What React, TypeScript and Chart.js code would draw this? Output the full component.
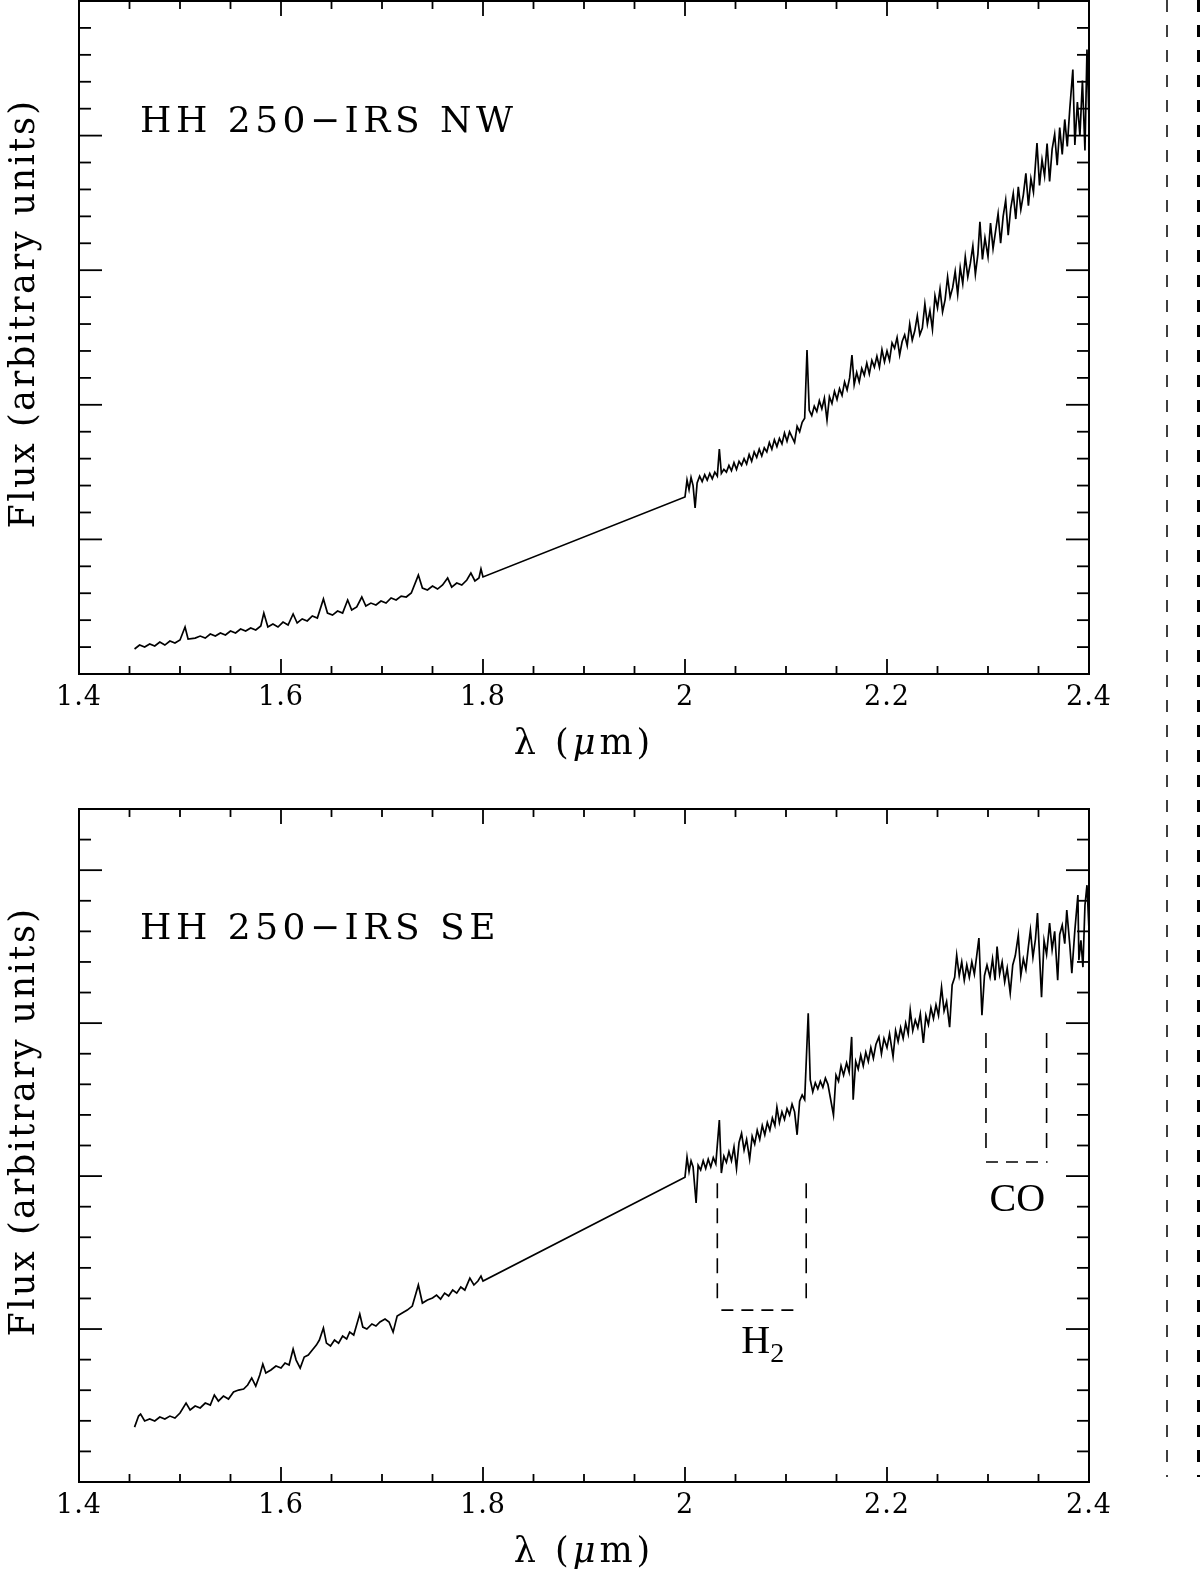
import React, { useEffect, useRef } from "react";
import { Chart, registerables } from "chart.js";

Chart.register(...registerables);

type Pt = [number, number];

// axis ticks (wavelength in micron), flux axis has no labels
const xMajorTicks = [1.4, 1.6, 1.8, 2.0, 2.2, 2.4];
const xTickLabels = ["1.4", "1.6", "1.8", "2", "2.2", "2.4"];
const xMinorStep = 0.05;
const yMinorStep = 0.2;

// HH 250-IRS NW, H band
const nwHBand: Pt[] = [
  [1.455, 0.186], [1.46, 0.215], [1.465, 0.201], [1.47, 0.223], [1.475, 0.208],
  [1.48, 0.238], [1.485, 0.215], [1.49, 0.245], [1.495, 0.23], [1.5, 0.253],
  [1.505, 0.349], [1.508, 0.26], [1.515, 0.267], [1.52, 0.282], [1.525, 0.267],
  [1.53, 0.297], [1.535, 0.282], [1.54, 0.305], [1.545, 0.29], [1.55, 0.319],
  [1.555, 0.305], [1.56, 0.334], [1.565, 0.319], [1.57, 0.342], [1.575, 0.327],
  [1.58, 0.357], [1.583, 0.453], [1.587, 0.349], [1.592, 0.371], [1.597, 0.349],
  [1.602, 0.386], [1.607, 0.364], [1.612, 0.446], [1.616, 0.379], [1.621, 0.409],
  [1.626, 0.394], [1.631, 0.431], [1.636, 0.416], [1.642, 0.557], [1.646, 0.453],
  [1.651, 0.438], [1.656, 0.468], [1.661, 0.453], [1.666, 0.55], [1.67, 0.475],
  [1.675, 0.498], [1.68, 0.572], [1.684, 0.505], [1.689, 0.527], [1.694, 0.513],
  [1.699, 0.542], [1.704, 0.527], [1.709, 0.565], [1.714, 0.55], [1.719, 0.579],
  [1.724, 0.572], [1.729, 0.602], [1.736, 0.735], [1.74, 0.639], [1.745, 0.624],
  [1.75, 0.654], [1.755, 0.631], [1.76, 0.661], [1.765, 0.713], [1.769, 0.646],
  [1.774, 0.676], [1.779, 0.661], [1.784, 0.698], [1.788, 0.75], [1.792, 0.691],
  [1.796, 0.713], [1.798, 0.78], [1.8, 0.721],
];

// HH 250-IRS NW, K band
const nwKBand: Pt[] = [
  [2.0, 1.315], [2.002, 1.441], [2.004, 1.37], [2.006, 1.46], [2.008, 1.4],
  [2.01, 1.233], [2.012, 1.42], [2.0145, 1.47], [2.017, 1.43], [2.0195, 1.48],
  [2.022, 1.44], [2.0245, 1.49], [2.027, 1.45], [2.0295, 1.5], [2.032, 1.47],
  [2.034, 1.672], [2.036, 1.49], [2.0385, 1.52], [2.041, 1.5], [2.0435, 1.55],
  [2.046, 1.51], [2.0485, 1.57], [2.051, 1.52], [2.0535, 1.58], [2.056, 1.55],
  [2.0585, 1.6], [2.061, 1.56], [2.0635, 1.63], [2.066, 1.58], [2.0685, 1.65],
  [2.071, 1.61], [2.0735, 1.67], [2.076, 1.62], [2.0785, 1.68], [2.081, 1.65],
  [2.0835, 1.72], [2.086, 1.67], [2.0885, 1.74], [2.091, 1.69], [2.0935, 1.75],
  [2.096, 1.71], [2.0985, 1.79], [2.101, 1.73], [2.1035, 1.8], [2.106, 1.76],
  [2.1085, 1.72], [2.111, 1.84], [2.1135, 1.8], [2.116, 1.87], [2.1185, 1.9],
  [2.1208, 2.407], [2.123, 1.96], [2.1255, 1.92], [2.128, 1.99], [2.1305, 1.95],
  [2.133, 2.03], [2.1355, 1.97], [2.138, 2.05], [2.1406, 1.887], [2.143, 2.06],
  [2.1455, 2.01], [2.148, 2.1], [2.1505, 2.04], [2.153, 2.12], [2.1555, 2.07],
  [2.158, 2.17], [2.1605, 2.11], [2.163, 2.2], [2.1653, 2.37], [2.1675, 2.15],
  [2.17, 2.24], [2.1725, 2.17], [2.175, 2.27], [2.1775, 2.22], [2.18, 2.31],
  [2.1825, 2.23], [2.185, 2.33], [2.1875, 2.28], [2.19, 2.36], [2.1925, 2.28],
  [2.195, 2.41], [2.1975, 2.32], [2.2, 2.4], [2.2025, 2.33], [2.205, 2.46],
  [2.2075, 2.42], [2.21, 2.5], [2.2125, 2.37], [2.215, 2.47], [2.2175, 2.52],
  [2.22, 2.44], [2.2225, 2.6], [2.225, 2.48], [2.2275, 2.55], [2.23, 2.66],
  [2.2325, 2.52], [2.235, 2.57], [2.2375, 2.75], [2.24, 2.6], [2.2425, 2.7],
  [2.245, 2.56], [2.2475, 2.81], [2.25, 2.72], [2.2525, 2.86], [2.255, 2.69],
  [2.2575, 2.78], [2.26, 2.95], [2.2625, 2.8], [2.265, 2.87], [2.2675, 2.99],
  [2.27, 2.82], [2.2725, 3.02], [2.275, 2.9], [2.2775, 3.1], [2.28, 2.95],
  [2.2825, 3.05], [2.285, 3.18], [2.2875, 2.97], [2.29, 3.12], [2.292, 3.36],
  [2.2945, 3.08], [2.297, 3.24], [2.3, 3.1], [2.3025, 3.35], [2.305, 3.16],
  [2.3075, 3.29], [2.31, 3.42], [2.3125, 3.2], [2.315, 3.4], [2.3175, 3.52],
  [2.32, 3.26], [2.3225, 3.46], [2.325, 3.57], [2.3275, 3.38], [2.33, 3.62],
  [2.3325, 3.45], [2.335, 3.56], [2.3375, 3.72], [2.34, 3.48], [2.3425, 3.68],
  [2.345, 3.58], [2.3485, 3.945], [2.351, 3.63], [2.3535, 3.82], [2.356, 3.7],
  [2.3585, 3.94], [2.361, 3.66], [2.3635, 3.9], [2.366, 4.01], [2.3685, 3.78],
  [2.371, 4.06], [2.3735, 3.86], [2.376, 4.12], [2.3785, 3.92], [2.381, 4.2],
  [2.384, 4.49], [2.386, 3.93], [2.3885, 4.25], [2.391, 4.0], [2.3935, 4.41],
  [2.396, 3.89], [2.398, 4.64], [2.4, 4.12],
];

// HH 250-IRS SE, H band
const seHBand: Pt[] = [
  [1.455, 0.359], [1.459, 0.431], [1.461, 0.444], [1.465, 0.399], [1.47, 0.412],
  [1.475, 0.399], [1.48, 0.425], [1.485, 0.412], [1.49, 0.431], [1.495, 0.418],
  [1.5, 0.451], [1.506, 0.516], [1.51, 0.471], [1.515, 0.497], [1.52, 0.484],
  [1.525, 0.516], [1.53, 0.503], [1.534, 0.569], [1.538, 0.529], [1.543, 0.562],
  [1.548, 0.542], [1.553, 0.588], [1.558, 0.601], [1.563, 0.608], [1.567, 0.634],
  [1.571, 0.68], [1.575, 0.627], [1.579, 0.699], [1.582, 0.771], [1.585, 0.712],
  [1.59, 0.732], [1.595, 0.758], [1.6, 0.745], [1.604, 0.778], [1.608, 0.765],
  [1.612, 0.869], [1.615, 0.797], [1.619, 0.745], [1.623, 0.817], [1.627, 0.83],
  [1.631, 0.863], [1.635, 0.895], [1.638, 0.928], [1.642, 1.007], [1.645, 0.908],
  [1.649, 0.889], [1.653, 0.928], [1.657, 0.908], [1.661, 0.954], [1.665, 0.935],
  [1.668, 0.98], [1.672, 0.961], [1.678, 1.098], [1.681, 1.013], [1.685, 1.0],
  [1.69, 1.033], [1.694, 1.02], [1.698, 1.046], [1.703, 1.065], [1.707, 1.046],
  [1.711, 0.98], [1.715, 1.085], [1.72, 1.105], [1.725, 1.124], [1.73, 1.15],
  [1.736, 1.288], [1.74, 1.17], [1.745, 1.19], [1.75, 1.203], [1.754, 1.222],
  [1.758, 1.196], [1.762, 1.235], [1.766, 1.216], [1.77, 1.255], [1.774, 1.235],
  [1.778, 1.275], [1.782, 1.255], [1.787, 1.333], [1.791, 1.288], [1.795, 1.314],
  [1.798, 1.346], [1.8, 1.314],
];

// HH 250-IRS SE, K band
const seKBand: Pt[] = [
  [2.0, 1.993], [2.002, 2.124], [2.004, 2.03], [2.006, 2.1], [2.008, 2.06],
  [2.011, 1.824], [2.013, 2.07], [2.0155, 2.04], [2.018, 2.1], [2.0205, 2.05],
  [2.023, 2.11], [2.0255, 2.06], [2.028, 2.12], [2.0305, 2.08], [2.034, 2.366],
  [2.036, 2.02], [2.0385, 2.13], [2.041, 2.09], [2.0435, 2.16], [2.046, 2.1],
  [2.0485, 2.19], [2.051, 2.05], [2.0535, 2.22], [2.056, 2.28], [2.0585, 2.17],
  [2.061, 2.24], [2.064, 2.11], [2.0665, 2.26], [2.069, 2.21], [2.0715, 2.3],
  [2.074, 2.24], [2.0765, 2.33], [2.079, 2.27], [2.0815, 2.35], [2.084, 2.3],
  [2.0865, 2.38], [2.089, 2.33], [2.091, 2.45], [2.0935, 2.35], [2.096, 2.42],
  [2.0985, 2.37], [2.101, 2.44], [2.1035, 2.4], [2.106, 2.47], [2.1085, 2.42],
  [2.111, 2.27], [2.1135, 2.49], [2.116, 2.53], [2.1185, 2.5], [2.122, 3.065],
  [2.124, 2.63], [2.1265, 2.55], [2.129, 2.61], [2.1315, 2.57], [2.134, 2.62],
  [2.1365, 2.58], [2.139, 2.64], [2.1415, 2.6], [2.147, 2.4], [2.1495, 2.66],
  [2.152, 2.62], [2.1545, 2.72], [2.157, 2.66], [2.16, 2.74], [2.1625, 2.68],
  [2.165, 2.91], [2.1665, 2.5], [2.169, 2.75], [2.1715, 2.7], [2.174, 2.79],
  [2.1765, 2.72], [2.179, 2.81], [2.1815, 2.75], [2.184, 2.84], [2.1865, 2.77],
  [2.189, 2.86], [2.192, 2.91], [2.1945, 2.8], [2.197, 2.9], [2.2, 2.84],
  [2.2025, 2.93], [2.206, 2.78], [2.2085, 2.95], [2.211, 2.88], [2.2135, 2.97],
  [2.216, 2.9], [2.2185, 3.0], [2.221, 2.93], [2.223, 3.085], [2.2255, 2.95],
  [2.228, 3.02], [2.2305, 2.97], [2.233, 3.06], [2.236, 2.87], [2.2385, 3.05],
  [2.241, 2.99], [2.2435, 3.1], [2.246, 3.03], [2.2485, 3.12], [2.251, 3.05],
  [2.254, 3.235], [2.2565, 3.08], [2.259, 3.14], [2.262, 2.974], [2.2645, 3.25],
  [2.267, 3.3], [2.269, 3.444], [2.2715, 3.31], [2.274, 3.4], [2.2765, 3.28],
  [2.279, 3.38], [2.2815, 3.3], [2.284, 3.4], [2.2865, 3.32], [2.289, 3.45],
  [2.291, 3.556], [2.294, 3.052], [2.2965, 3.31], [2.299, 3.38], [2.302, 3.3],
  [2.3045, 3.42], [2.307, 3.28], [2.309, 3.5], [2.3115, 3.32], [2.314, 3.4],
  [2.3165, 3.27], [2.319, 3.36], [2.322, 3.196], [2.3245, 3.38], [2.327, 3.44],
  [2.33, 3.575], [2.3325, 3.31], [2.335, 3.42], [2.3375, 3.35], [2.34, 3.5],
  [2.342, 3.608], [2.3445, 3.43], [2.347, 3.55], [2.349, 3.719], [2.353, 3.17],
  [2.3555, 3.54], [2.358, 3.45], [2.361, 3.654], [2.3635, 3.48], [2.366, 3.6],
  [2.369, 3.281], [2.371, 3.58], [2.3735, 3.64], [2.376, 3.52], [2.378, 3.739],
  [2.381, 3.51], [2.383, 3.327], [2.386, 3.608], [2.389, 3.837], [2.39, 3.412],
  [2.392, 3.542], [2.394, 3.366], [2.396, 3.771], [2.398, 3.902], [2.4, 3.608],
];

// line identification brackets (SE panel): sides in um, levels in flux units
const h2Sides = [2.032, 2.12];
const h2Bar = [2.036, 2.115];
const h2Levels = [1.954, 1.19, 1.124]; // side top, side bottom, bar
const h2LabelAt: Pt = [2.077, 0.843];
const coSides = [2.298, 2.358];
const coBar = [2.298, 2.359];
const coLevels = [2.935, 2.183, 2.092];
const coLabelAt: Pt = [2.329, 1.771];

const HERSHEY = '"DejaVu Serif", "Liberation Serif", serif';

const framePlugin = {
  id: "pgFrame",
  afterDatasetsDraw(chart: any, _args: any, opts: any) {
    const { ctx, chartArea: a } = chart;
    const xs = chart.scales.x;
    const ys = chart.scales.y;
    const seg = (x1: number, y1: number, x2: number, y2: number) => {
      ctx.beginPath();
      ctx.moveTo(x1, y1);
      ctx.lineTo(x2, y2);
      ctx.stroke();
    };
    ctx.save();
    ctx.strokeStyle = "#000";
    ctx.fillStyle = "#000";
    ctx.lineWidth = 2;
    ctx.strokeRect(a.left, a.top, a.right - a.left, a.bottom - a.top);

    // x ticks, inward on bottom and top
    ctx.lineWidth = 1.8;
    const nx = Math.round((xs.max - xs.min) / xMinorStep);
    for (let i = 1; i < nx; i++) {
      const px = xs.getPixelForValue(xs.min + i * xMinorStep);
      const len = i % 4 === 0 ? 15 : 8;
      seg(px, a.bottom, px, a.bottom - len);
      seg(px, a.top, px, a.top + len);
    }
    // y ticks, inward on left and right
    const ny = Math.round((ys.max - ys.min) / yMinorStep);
    for (let i = 1; i < ny; i++) {
      const py = ys.getPixelForValue(ys.min + i * yMinorStep);
      const len = i % 5 === 0 ? 23 : 12;
      seg(a.left, py, a.left + len, py);
      seg(a.right, py, a.right - len, py);
    }

    // tick labels
    ctx.font = `27px ${HERSHEY}`;
    ctx.letterSpacing = "1px";
    ctx.textAlign = "center";
    ctx.textBaseline = "alphabetic";
    xMajorTicks.forEach((v, i) => {
      ctx.fillText(xTickLabels[i], xs.getPixelForValue(v), a.bottom + 31);
    });

    // x title: lambda (mu m)
    const parts: [string, boolean][] = [["λ (", false], ["μ", true], ["m)", false]];
    ctx.letterSpacing = "4px";
    ctx.textAlign = "left";
    let total = 0;
    parts.forEach(([t, it]) => {
      ctx.font = `${it ? "italic " : ""}35px ${HERSHEY}`;
      total += ctx.measureText(t).width;
    });
    let cx = (a.left + a.right) / 2 - total / 2;
    parts.forEach(([t, it]) => {
      ctx.font = `${it ? "italic " : ""}35px ${HERSHEY}`;
      ctx.fillText(t, cx, a.bottom + 80);
      cx += ctx.measureText(t).width;
    });

    // y title
    ctx.save();
    ctx.translate(34, (a.top + a.bottom) / 2 - 24);
    ctx.rotate(-Math.PI / 2);
    ctx.font = `35px ${HERSHEY}`;
    ctx.letterSpacing = "2.5px";
    ctx.textAlign = "center";
    ctx.fillText("Flux (arbitrary units)", 0, 0);
    ctx.restore();

    // panel label
    ctx.font = `36px ${HERSHEY}`;
    ctx.letterSpacing = "4.5px";
    ctx.textAlign = "left";
    ctx.fillText(opts.label, xs.getPixelForValue(opts.labelAt[0]), ys.getPixelForValue(opts.labelAt[1]));

    // line labels
    ctx.letterSpacing = "0px";
    (opts.notes || []).forEach((n: any) => {
      const px = xs.getPixelForValue(n.at[0]);
      const py = ys.getPixelForValue(n.at[1]);
      ctx.font = `40px "Liberation Serif", serif`;
      const w1 = ctx.measureText(n.text).width;
      ctx.font = `28px "Liberation Serif", serif`;
      const w2 = n.sub ? ctx.measureText(n.sub).width : 0;
      const x0 = px - (w1 + w2) / 2;
      ctx.textAlign = "left";
      ctx.font = `40px "Liberation Serif", serif`;
      ctx.fillText(n.text, x0, py);
      if (n.sub) {
        ctx.font = `28px "Liberation Serif", serif`;
        ctx.fillText(n.sub, x0 + w1, py + 9);
      }
    });
    ctx.restore();
  },
  afterDraw(chart: any, _args: any, opts: any) {
    // edge of the neighbouring figure, cut off at the right
    const { ctx } = chart;
    ctx.save();
    ctx.strokeStyle = "#000";
    ctx.setLineDash([12, 13]);
    ctx.lineDashOffset = opts.dashPhase || 0;
    ctx.lineWidth = 1.5;
    ctx.beginPath();
    ctx.moveTo(1167, 0);
    ctx.lineTo(1167, opts.dashTo);
    ctx.stroke();
    ctx.lineWidth = 3;
    ctx.beginPath();
    ctx.moveTo(1198.5, 0);
    ctx.lineTo(1198.5, opts.dashTo);
    ctx.stroke();
    ctx.restore();
  },
};

const toXY = (pts: Pt[]) => pts.map(([x, y]) => ({ x, y }));

const bracketSets = (sides: number[], bar: number[], lv: number[]) => [
  {
    data: [
      { x: sides[0], y: lv[0] },
      { x: sides[0], y: lv[1] },
      { x: sides[0], y: null },
      { x: sides[1], y: lv[0] },
      { x: sides[1], y: lv[1] },
    ],
    borderColor: "#000",
    borderWidth: 1.6,
    borderDash: [15, 10],
    pointRadius: 0,
  },
  {
    data: [
      { x: bar[0], y: lv[2] },
      { x: bar[1], y: lv[2] },
    ],
    borderColor: "#000",
    borderWidth: 1.6,
    borderDash: [12, 8],
    pointRadius: 0,
  },
];

interface PanelProps {
  hBand: Pt[];
  kBand: Pt[];
  yMax: number;
  label: string;
  labelAt: Pt;
  height: number;
  pad: { left: number; top: number; right: number; bottom: number };
  dashTo: number;
  dashPhase: number;
  brackets?: boolean;
}

const Panel: React.FC<PanelProps> = (p) => {
  const chartRef = useRef<HTMLCanvasElement | null>(null);

  useEffect(() => {
    if (!chartRef.current) return;
    const ctx = chartRef.current.getContext("2d");
    if (!ctx) return;

    const datasets: any[] = [
      {
        data: toXY([...p.hBand, ...p.kBand]),
        borderColor: "#000",
        borderWidth: 1.7,
        pointRadius: 0,
        tension: 0,
      },
    ];
    if (p.brackets) {
      datasets.push(...bracketSets(h2Sides, h2Bar, h2Levels));
      datasets.push(...bracketSets(coSides, coBar, coLevels));
    }

    const chartInstance = new Chart(ctx, {
      type: "line",
      data: { datasets },
      options: {
        responsive: true,
        maintainAspectRatio: false,
        animation: false,
        events: [],
        layout: { padding: p.pad },
        plugins: {
          legend: { display: false },
          tooltip: { enabled: false },
          // @ts-ignore custom plugin options
          pgFrame: {
            label: p.label,
            labelAt: p.labelAt,
            dashTo: p.dashTo,
            dashPhase: p.dashPhase,
            notes: p.brackets
              ? [
                  { text: "H", sub: "2", at: h2LabelAt },
                  { text: "CO", at: coLabelAt },
                ]
              : [],
          },
        },
        scales: {
          x: { type: "linear", min: 1.4, max: 2.4, display: false },
          y: { type: "linear", min: 0, max: p.yMax, display: false },
        },
      },
      plugins: [framePlugin],
    });

    return () => {
      chartInstance.destroy();
    };
  }, []);

  return (
    <div style={{ position: "relative", width: 1200, height: p.height }}>
      <canvas ref={chartRef} />
    </div>
  );
};

const App: React.FC = () => {
  return (
    <div style={{ position: "absolute", left: 0, top: 0, width: 1200, height: 1571, background: "#fff" }}>
      <Panel
        hBand={nwHBand}
        kBand={nwKBand}
        yMax={5}
        label="HH 250−IRS NW"
        labelAt={[1.4604, 4.03]}
        height={785}
        pad={{ left: 79, top: 1, right: 111, bottom: 111 }}
        dashTo={785}
        dashPhase={0}
      />
      <Panel
        hBand={seHBand}
        kBand={seKBand}
        yMax={4.4}
        label="HH 250−IRS SE"
        labelAt={[1.4604, 3.549]}
        height={786}
        pad={{ left: 79, top: 24, right: 111, bottom: 89 }}
        dashTo={692}
        dashPhase={785 % 25}
        brackets
      />
    </div>
  );
};

export default App;
